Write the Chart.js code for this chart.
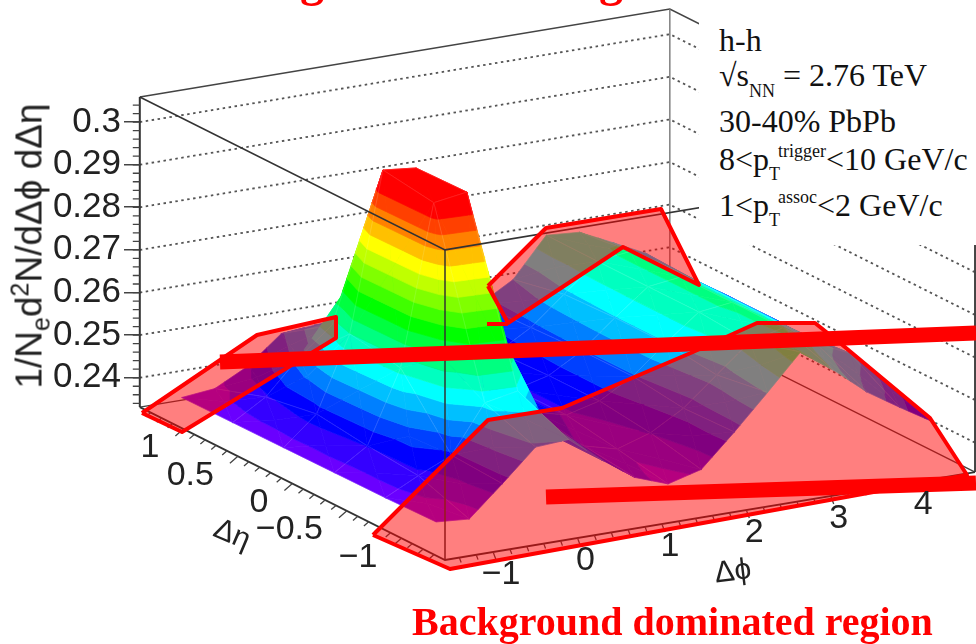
<!DOCTYPE html>
<html><head><meta charset="utf-8">
<script src="https://cdn.jsdelivr.net/npm/chart.js@4/dist/chart.umd.min.js"></script>
<style>
html,body{margin:0;padding:0;background:#fff;width:976px;height:644px;overflow:hidden}
#wrap{position:relative;width:976px;height:644px;overflow:hidden}
canvas{position:absolute;left:0;top:0}
.t{position:absolute;white-space:nowrap}
.serif{font-family:"Liberation Serif",serif;color:#111;font-size:32px;line-height:32px}
.small{font-size:18px;position:relative}
#box{position:absolute;left:699px;top:0;width:277px;height:245px;background:#fff}
#ztitle{font-family:"Liberation Sans",sans-serif;font-size:37px;color:#222;line-height:38px;transform:translate(-50%,-50%) rotate(-90deg);left:31px;top:246px}
#ztitle span{font-size:25px;position:relative}
</style></head><body><div id="wrap">
<canvas id="c" width="976" height="644"></canvas>
<div id="box"></div>
<div class="t serif" style="left:719px;top:24px">h-h</div>
<div class="t serif" style="left:719px;top:59px">√s<span class="small" style="top:11px">NN</span> = 2.76 TeV</div>
<div class="t serif" style="left:719px;top:105px">30-40% PbPb</div>
<div class="t serif" style="left:719px;top:143px">8&lt;p<span class="small" style="top:10px;margin-right:-2px">T</span><span class="small" style="top:-13px">trigger</span>&lt;10 GeV/c</div>
<div class="t serif" style="left:719px;top:189px">1&lt;p<span class="small" style="top:10px;margin-right:-2px">T</span><span class="small" style="top:-13px">assoc</span>&lt;2 GeV/c</div>
<div class="t" style="left:412px;top:600px;font:bold 40px/44px 'Liberation Serif',serif;color:#f00">Background dominated region</div>
<div class="t" style="left:300px;top:-38px;font:bold 48px/36px 'Liberation Serif',serif;color:#f00">g</div>
<div class="t" style="left:599px;top:-38px;font:bold 48px/36px 'Liberation Serif',serif;color:#f00">g</div>
<div class="t" id="ztitle">1/N<span style="top:8px">e</span>d<span style="top:-13px">2</span>N/dΔϕ dΔη</div>
</div>
<script>
// ---------- data ----------
const phiNodes = [-1.374,-0.982,-0.589,-0.196,0.196,0.589,0.982,1.374,1.767,2.160,2.553,2.945,3.338,3.731,4.123,4.516];
const etaNodes = [-1.167,-0.7,-0.233,0.233,0.7,1.167];
const zEtaM117 = [.2384,.2378,.2448,.2521,.2526,.2465,.2411,.2383,.2404,.2479,.2559,.2641,.2585,.2521,.2472,.2425];
const zEtaM070 = [.2381,.2420,.2455,.2565,.2580,.2465,.2425,.2405,.2430,.2475,.2540,.2605,.2625,.2575,.2540,.2465];
const zEtaM023 = [.2380,.2430,.2600,.2975,.2987,.2525,.2445,.2425,.2445,.2490,.2555,.2615,.2625,.2580,.2530,.2460];
const zEtaP023 = [.2379,.2445,.2620,.2992,.2984,.2525,.2445,.2425,.2445,.2490,.2555,.2615,.2625,.2580,.2530,.2480];
const zEtaP070 = [.2378,.2425,.2505,.2568,.2580,.2465,.2425,.2415,.2440,.2485,.2550,.2615,.2625,.2580,.2530,.2480];
const zEtaP117 = [.2377,.2385,.2425,.2488,.2495,.2425,.2400,.2395,.2425,.2480,.2525,.2616,.2610,.2573,.2535,.2461];
const zTicks = [0.24,0.25,0.26,0.27,0.28,0.29,0.3];
const etaTicks = [1,0.5,0,-0.5,-1];
const phiTicks = [-1,0,1,2,3,4];
const zLevels = [.2397,.2429,.2461,.2493,.2525,.2557,.2589,.2621,.2653,.2685,.2717,.2749,.2781,.2813,.2845,.2877,.2909,.2941];
const bandColors = ['#6a00ff','#3400ff','#0000ff','#0040ff','#0080ff','#00c0ff','#00ffff','#00ffc0','#00ff80','#00ff40','#00ff00','#40ff00','#80ff00','#c0ff00','#ffff00','#ffc000','#ff8000','#ff4000','#ff0000'];
// hand-drawn annotations on the slide (picture units)
const regionLeft  = [[142,413],[182,432],[336,338],[336,317],[257,335],[142,413]];
const regionBack  = [[488,286],[546,228],[661,209],[699,285],[623,247],[508,323],[488,286]];
const regionFront = [[373,535],[488,420],[562,408],[693,352],[757,323],[815,323],[840,343],[930,418],[967,475],[450,569],[373,535]];
const strokeUpper = [[220,362],[976,333]];
const strokeLower = [[546,497],[976,483]];
const strokeSmall = [[487,324],[508,324]];

const zRows = [zEtaM117,zEtaM070,zEtaM023,zEtaP023,zEtaP070,zEtaP117];
// ---------- axonometric box of the 3-D frame ----------
const PHI0=-1.57, PHI1=4.71, ETA0=-1.4, ETA1=1.4, Z0=.2331, Z1=.3059;
const proj=(phi,eta,z)=>({x:445+(phi-PHI0)*84.4-(eta-ETA0)*109, y:560-(phi-PHI0)*14-(eta-ETA0)*54.6-(z-Z0)*4260});
const out=[];
const base={xAxisID:'x',yAxisID:'yPx',showLine:true,pointRadius:0,pointHoverRadius:0,clip:false,tension:0,spanGaps:false};
function line(pts,color,width,dash){out.push({...base,data:pts,borderColor:color,borderWidth:width,borderDash:dash||[],fill:false});}
function poly(pts,fillCol,strokeCol,width){out.push({...base,data:pts,borderColor:strokeCol,borderWidth:width,backgroundColor:fillCol,fill:'shape',borderJoinStyle:'round'});}
const gap={x:NaN,y:NaN};

// back walls
const wall=[];
zTicks.forEach(z=>{wall.push(proj(PHI0,ETA1,z),proj(PHI1,ETA1,z),proj(PHI1,ETA0,z),gap);});
line(wall,'#555',1.8,[2.5,3.5]);
line([proj(PHI0,ETA1,Z1),proj(PHI1,ETA1,Z1),proj(PHI1,ETA0,Z1)],'#444',1.6);
line([proj(PHI1,ETA1,Z1),proj(PHI1,ETA1,Z0)],'#777',1.4);
line([proj(PHI0,ETA1,Z0),proj(PHI1,ETA1,Z0),proj(PHI1,ETA0,Z0)],'#444',1.4);
line([proj(PHI1,ETA0,Z1),proj(PHI1,ETA0,Z0)],'#444',2);

// surface: contour-band polygons, painted back to front
function clip(poly3,lev,keepAbove){
  const r=[];
  for(let k=0;k<poly3.length;k++){
    const a=poly3[k],b=poly3[(k+1)%poly3.length];
    const ia=keepAbove?a[2]>=lev:a[2]<=lev, ib=keepAbove?b[2]>=lev:b[2]<=lev;
    if(ia)r.push(a);
    if(ia!==ib){const t=(lev-a[2])/(b[2]-a[2]);r.push([a[0]+t*(b[0]-a[0]),a[1]+t*(b[1]-a[1]),lev]);}
  }
  return r;
}
function addTriangle(tri){
  for(let b=0;b<bandColors.length;b++){
    let p=tri;
    if(b>0)p=clip(p,zLevels[b-1],true);
    if(p.length&&b<zLevels.length)p=clip(p,zLevels[b],false);
    if(p.length<3)continue;
    const pts=p.map(v=>proj(v[0],v[1],v[2]));pts.push(pts[0]);
    poly(pts,bandColors[b],bandColors[b],0.7);
  }
}
for(let i=phiNodes.length-2;i>=0;i--){
  for(let j=etaNodes.length-2;j>=0;j--){
    const a=[phiNodes[i],etaNodes[j],zRows[j][i]],b=[phiNodes[i+1],etaNodes[j],zRows[j][i+1]],
          c=[phiNodes[i+1],etaNodes[j+1],zRows[j+1][i+1]],d=[phiNodes[i],etaNodes[j+1],zRows[j+1][i]];
    const m=[(a[0]+c[0])/2,(a[1]+c[1])/2,(a[2]+b[2]+c[2]+d[2])/4];
    addTriangle([d,c,m]);addTriangle([c,b,m]);addTriangle([d,a,m]);addTriangle([a,b,m]);
    line([a,b,c,d,a].map(v=>proj(v[0],v[1],v[2])),'rgba(255,255,255,0.14)',0.8);
  }
}

// front frame
line([proj(PHI0,ETA1,Z1),proj(PHI0,ETA0,Z1),proj(PHI1,ETA0,Z1)],'#333',1.6);
line([proj(PHI0,ETA0,Z1),proj(PHI0,ETA0,Z0)],'#333',1.5);
line([proj(PHI0,ETA1,Z1),proj(PHI0,ETA1,Z0)],'#333',2);
line([proj(PHI0,ETA1,Z0),proj(PHI0,ETA0,Z0),proj(PHI1,ETA0,Z0)],'#333',1.8);

// floor and wall minor ticks
const minor=[];
for(let e=-13;e<=13;e++){const v=e/10,p=proj(PHI0,v,Z0),L=(e%5===0)?1:0.6;minor.push(p,{x:p.x-8*L,y:p.y+7*L},gap);}
for(let f=-7;f<=23;f++){const v=f/5,p=proj(v,ETA0,Z0),L=(f%5===0)?1:0.6;minor.push(p,{x:p.x+3*L,y:p.y+8*L},gap);}
for(let k=117;k<=152;k++){const z=k/500,p=proj(PHI0,ETA1,z);minor.push(p,{x:p.x-7,y:p.y},gap);}
line(minor,'#444',1.3);

// overlays
const asPts=a=>a.map(q=>({x:q[0],y:q[1]}));
[regionLeft,regionBack,regionFront].forEach(r=>poly(asPts(r),'rgba(255,0,0,0.5)','#f00',4));
line(asPts(strokeUpper),'#f00',15);
line(asPts(strokeLower),'#f00',15);
line(asPts(strokeSmall),'#f00',4);

const floorLabels={id:'floorLabels',afterDatasetsDraw(chart){
  const c=chart.ctx,X=chart.scales.x,Y=chart.scales.yPx;
  c.save();c.fillStyle='#222';c.font='34px "Liberation Sans",sans-serif';c.textBaseline='middle';
  c.textAlign='right';
  etaTicks.forEach(v=>{const p=proj(PHI0,v,Z0);c.fillText(String(v).replace('-','\u2212'),X.getPixelForValue(p.x)-24,Y.getPixelForValue(p.y)+19);});
  c.textAlign='center';
  phiTicks.forEach(v=>{const p=proj(v,ETA0,Z0);c.fillText(String(v).replace('-','\u2212'),X.getPixelForValue(p.x)+8,Y.getPixelForValue(p.y)+23);});
  c.font='30px "Liberation Sans",sans-serif';
  c.save();c.translate(232,535);c.rotate(0.4);c.fillText('Δη',0,0);c.restore();
  c.save();c.translate(733,572);c.rotate(-0.12);c.fillText('Δϕ',0,0);c.restore();
  c.restore();
}};

new Chart(document.getElementById('c'),{
  type:'scatter',
  data:{datasets:out.reverse()},
  plugins:[floorLabels],
  options:{
    responsive:false,animation:false,events:[],
    layout:{padding:0},
    plugins:{legend:{display:false},tooltip:{enabled:false},title:{display:false}},
    scales:{
      x:{type:'linear',display:false,min:140,max:976},
      yPx:{type:'linear',display:false,min:0,max:644,reverse:true},
      z:{type:'linear',position:'left',min:0.17746,max:0.32864,
         afterBuildTicks(s){s.ticks=zTicks.map(v=>({value:v}));},
         afterFit(s){s.width=140;s.paddingTop=0;s.paddingBottom=0;},
         border:{display:false},
         grid:{drawOnChartArea:false,drawTicks:true,tickLength:16,color:'#444',lineWidth:1.5},
         ticks:{autoSkip:false,padding:3,color:'#222',font:{family:'"Liberation Sans",sans-serif',size:35},
                callback:v=>String(Number(v.toFixed(2)))}
      }
    }
  }
});
</script></body></html>
